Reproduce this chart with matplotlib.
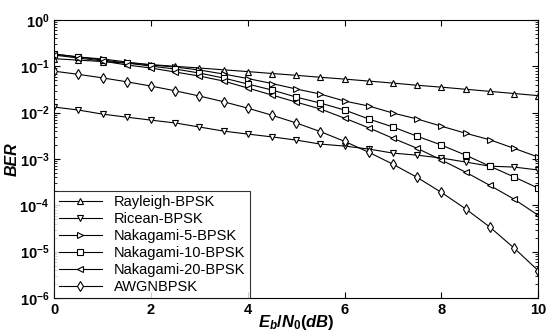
import numpy as np
import matplotlib
matplotlib.use("Agg")
import matplotlib.pyplot as plt
from matplotlib.ticker import LogLocator, NullFormatter, FixedLocator

plt.rcParams['font.family'] = 'Liberation Sans'
plt.rcParams['mathtext.fontset'] = 'custom'
plt.rcParams['mathtext.rm'] = 'Liberation Sans:weight=bold'
plt.rcParams['mathtext.it'] = 'Liberation Sans:style=italic:weight=bold'
plt.rcParams['mathtext.bf'] = 'Liberation Sans:weight=bold'

# Eb/N0 in dB, markers every 0.5 dB
ebn0 = np.arange(0, 10.5, 0.5)

rayleigh = [0.146, 0.136, 0.127, 0.117, 0.109, 0.100, 0.092, 0.084, 0.077, 0.070,
            0.064, 0.058, 0.053, 0.048, 0.0435, 0.039, 0.0355, 0.032, 0.0288, 0.0259, 0.0233]
ricean = [0.0132, 0.0114, 0.0093, 0.0080, 0.0069, 0.0060, 0.0049, 0.0040, 0.00345, 0.0030,
          0.00256, 0.0021, 0.0019, 0.00164, 0.00134, 0.00121, 0.00105, 8.6e-4, 7.0e-4, 6.7e-4, 5.8e-4]
nakagami5 = [0.184, 0.159, 0.144, 0.124, 0.107, 0.0966, 0.0832, 0.0682, 0.0545, 0.0425,
             0.0324, 0.0252, 0.0178, 0.0139, 0.0098, 0.0073, 0.0051, 0.0036, 0.0026, 0.0017, 0.0011]
nakagami10 = [0.184, 0.159, 0.137, 0.118, 0.101, 0.0874, 0.0716, 0.0559, 0.0415, 0.0308,
              0.0217, 0.0161, 0.0114, 0.0073, 0.0049, 0.0031, 0.0020, 0.00121, 7.0e-4, 4.1e-4, 2.35e-4]
nakagami20 = [0.175, 0.151, 0.130, 0.107, 0.0919, 0.0753, 0.0617, 0.0481, 0.0340, 0.0240,
              0.0169, 0.0120, 0.0076, 0.0047, 0.0028, 0.0017, 9.5e-4, 5.2e-4, 2.7e-4, 1.36e-4, 6.1e-5]
awgn = [0.0786, 0.0671, 0.0563, 0.0464, 0.0375, 0.0296, 0.0229, 0.0172, 0.0125, 0.0088,
        0.0060, 0.0039, 0.0024, 0.0014, 7.7e-4, 4.0e-4, 1.9e-4, 8.4e-5, 3.4e-5, 1.2e-5, 3.9e-6]

series = [
    ('Rayleigh-BPSK', rayleigh, '^'),
    ('Ricean-BPSK', ricean, 'v'),
    ('Nakagami-5-BPSK', nakagami5, '>'),
    ('Nakagami-10-BPSK', nakagami10, 's'),
    ('Nakagami-20-BPSK', nakagami20, '<'),
    ('AWGNBPSK', awgn, 'd'),
]

fig = plt.figure(figsize=(5.47, 3.33), dpi=100)
ax = fig.add_axes([0.099, 0.105, 0.885, 0.835])

for name, vals, mk in series:
    ax.semilogy(ebn0, vals, color='black', linestyle='-', linewidth=0.8,
                marker=mk, markersize=5, markerfacecolor='white',
                markeredgecolor='black', markeredgewidth=0.8, label=name)

ax.set_xlim(0, 10)
ax.set_ylim(1e-6, 1)
ax.set_xticks([0, 2, 4, 6, 8, 10])
ax.set_xticklabels(['0', '2', '4', '6', '8', '10'], fontweight='bold', fontsize=10.5)
ax.yaxis.set_major_locator(FixedLocator([1e-6, 1e-5, 1e-4, 1e-3, 1e-2, 1e-1, 1]))
ax.set_yticklabels([r'$\mathbf{10^{-6}}$', r'$\mathbf{10^{-5}}$', r'$\mathbf{10^{-4}}$',
                    r'$\mathbf{10^{-3}}$', r'$\mathbf{10^{-2}}$', r'$\mathbf{10^{-1}}$',
                    r'$\mathbf{10^{0}}$'], fontsize=10.5)
ax.yaxis.set_minor_locator(LogLocator(base=10, subs=np.arange(2, 10), numticks=20))
ax.yaxis.set_minor_formatter(NullFormatter())
ax.tick_params(which='both', direction='in', top=True, right=True)
ax.tick_params(which='major', length=4, width=0.8)
ax.tick_params(which='minor', length=2, width=0.6)

ax.set_xlabel(r'$E_b/N_0(dB)$', fontsize=12, labelpad=-3)
ax.set_ylabel('BER', fontsize=11.5, fontweight='bold', fontstyle='italic', labelpad=0)

leg = ax.legend(loc='lower left', fontsize=10.5, frameon=True, fancybox=False,
                edgecolor='black', handlelength=3.0, borderaxespad=0.0,
                labelspacing=0.2, borderpad=0.3)
leg.get_frame().set_linewidth(0.8)
for sp in ax.spines.values():
    sp.set_linewidth(0.8)

fig.savefig('out.png', dpi=100)
